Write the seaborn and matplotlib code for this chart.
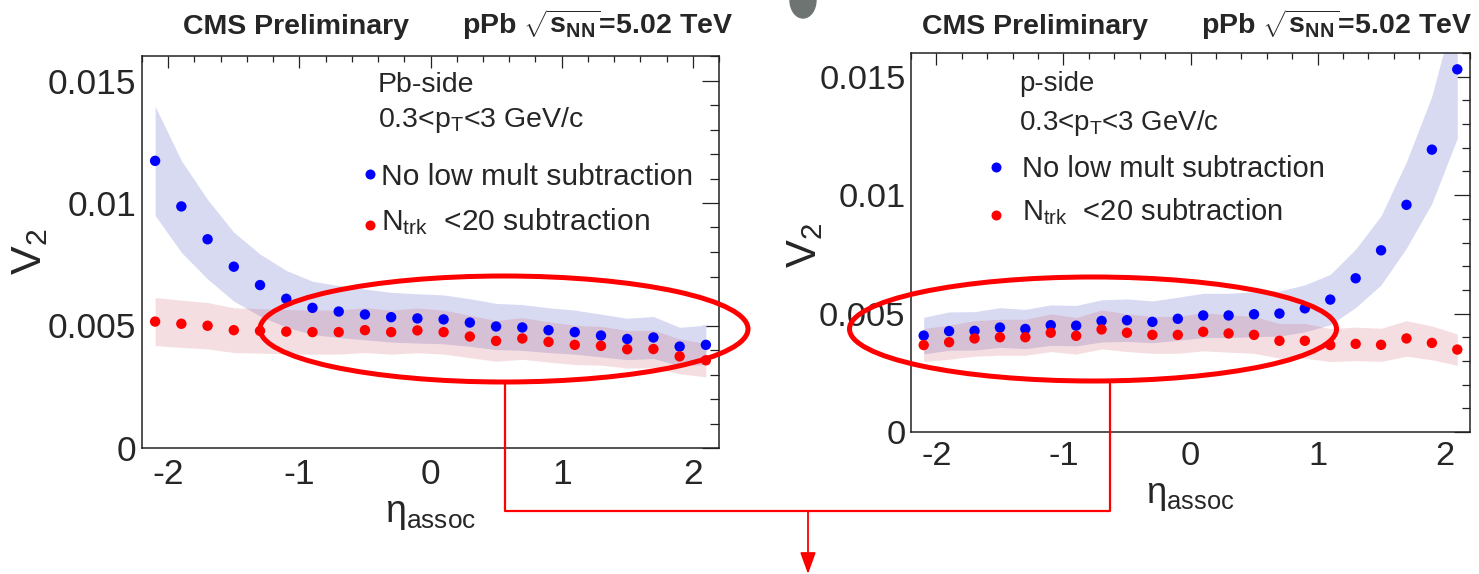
import numpy as np
import pandas as pd
import matplotlib
matplotlib.use("Agg")
import matplotlib.pyplot as plt
import seaborn as sns
from matplotlib.lines import Line2D
from matplotlib.patches import Ellipse, FancyArrowPatch
from matplotlib.ticker import MultipleLocator

# ---- data: v2 vs eta_assoc, 0.3 < pT < 3 GeV/c ----
eta = [-2.1, -1.9, -1.7, -1.5, -1.3, -1.1, -0.9, -0.7, -0.5, -0.3, -0.1,
       0.1, 0.3, 0.5, 0.7, 0.9, 1.1, 1.3, 1.5, 1.7, 1.9, 2.1]

pb_no_sub = [0.01172, 0.00986, 0.00852, 0.00740, 0.00665, 0.00609, 0.00572,
             0.00557, 0.00545, 0.00534, 0.00529, 0.00525, 0.00512, 0.00496,
             0.00492, 0.00481, 0.00473, 0.00459, 0.00445, 0.00451, 0.00414,
             0.00421]
pb_sub20 = [0.00516, 0.00507, 0.00499, 0.00481, 0.00478, 0.00475, 0.00473,
            0.00473, 0.00481, 0.00473, 0.00480, 0.00473, 0.00455, 0.00437,
            0.00447, 0.00433, 0.00421, 0.00417, 0.00403, 0.00404, 0.00374,
            0.00358]

p_no_sub = [0.00407, 0.00426, 0.00427, 0.00441, 0.00435, 0.00451, 0.00449,
            0.00469, 0.00472, 0.00465, 0.00478, 0.00492, 0.00492, 0.00497,
            0.00500, 0.00522, 0.00559, 0.00649, 0.00767, 0.00959, 0.01192,
            0.01531]
p_sub20 = [0.00367, 0.00379, 0.00395, 0.00400, 0.00400, 0.00419, 0.00406,
           0.00433, 0.00419, 0.00410, 0.00410, 0.00423, 0.00416, 0.00410,
           0.00385, 0.00385, 0.00367, 0.00372, 0.00368, 0.00395, 0.00376,
           0.00348]

syst_frac = 0.19  # relative systematic uncertainty (shaded bands)

x_ticks = [-2, -1, 0, 1, 2]
x_tick_labels = ["-2", "-1", "0", "1", "2"]
y_ticks = [0, 0.005, 0.01, 0.015]
y_tick_labels = ["0", "0.005", "0.01", "0.015"]

series_labels = ["No low mult subtraction", r"N$_{\mathrm{trk}}$  <20 subtraction"]
side_labels = ["Pb-side", "p-side"]
pt_label = r"0.3<p$_{\mathrm{T}}$<3 GeV/c"

# ---- style ----
sns.set_style("white")
plt.rcParams["font.family"] = ["Liberation Sans", "DejaVu Sans"]
plt.rcParams["mathtext.fontset"] = "custom"
plt.rcParams["mathtext.rm"] = "Liberation Sans"
plt.rcParams["mathtext.it"] = "Liberation Sans:italic"
plt.rcParams["mathtext.bf"] = "Liberation Sans:bold"

W, H = 1479, 574
fig = plt.figure(figsize=(W / 100, H / 100), dpi=100)
fig.patch.set_facecolor("white")


def fx(x):
    return x / W


def fy(y):
    return 1 - y / H


BLUE = "#0000ff"
RED = "#ff0000"
BLUE_BAND = "#d8daf2"
RED_BAND = (0.78, 0.25, 0.30, 0.17)

panels = [
    dict(rect=(142, 56, 719, 448), no_sub=pb_no_sub, sub=pb_sub20, side=side_labels[0],
         scale=1.0, head_x=378, head_y=(92, 127), mark_x=370, mark_y=(174, 225),
         text_x=381, text_y=(185, 230), title_x=(183, 462), ylab=(30, 252),
         xlab_y=522),
    dict(rect=(911, 53, 1470, 432), no_sub=p_no_sub, sub=p_sub20, side=side_labels[1],
         scale=0.97, head_x=1019, head_y=(91, 130), mark_x=996, mark_y=(167, 215),
         text_x=1022, text_y=(177, 220), title_x=(922, 1201), ylab=(805, 245),
         xlab_y=503),
]

for p in panels:
    l, t, r, b = p["rect"]
    s = p["scale"]
    ax = fig.add_axes([fx(l), fy(b), (r - l) / W, (b - t) / H])
    ax.set_facecolor("white")

    df = pd.DataFrame({"eta": eta, "nosub": p["no_sub"], "sub": p["sub"]})

    # systematic bands
    ax.fill_between(df["eta"], df["nosub"] * (1 - syst_frac), df["nosub"] * (1 + syst_frac),
                    color=BLUE_BAND, lw=0, zorder=1)
    ax.fill_between(df["eta"], df["sub"] * (1 - syst_frac), df["sub"] * (1 + syst_frac),
                    color=RED_BAND, lw=0, zorder=2)

    # data points
    sns.scatterplot(data=df, x="eta", y="nosub", color=BLUE, s=56, edgecolor="none",
                    ax=ax, zorder=4, legend=False)
    sns.scatterplot(data=df, x="eta", y="sub", color=RED, s=56, edgecolor="none",
                    ax=ax, zorder=4, legend=False)

    ax.set_xlim(-2.2, 2.2)
    ax.set_ylim(0, 0.016)
    ax.set_xticks(x_ticks)
    ax.set_xticklabels(x_tick_labels)
    ax.set_yticks(y_ticks)
    ax.set_yticklabels(y_tick_labels)
    ax.xaxis.set_minor_locator(MultipleLocator(0.2))
    ax.yaxis.set_minor_locator(MultipleLocator(0.001))
    ax.set_xlabel("")
    ax.set_ylabel("")
    ax.tick_params(axis="x", which="major", direction="in", top=True, length=8.6 * s,
                   width=0.9, labelsize=25.5 * s, pad=7 * s, color="#222222")
    ax.tick_params(axis="x", which="minor", direction="in", top=True, length=4.3 * s,
                   width=0.9, color="#222222")
    ax.tick_params(axis="y", which="major", direction="in", right=True, length=12 * s,
                   width=0.9, labelsize=25.5 * s, pad=4 * s, color="#222222")
    ax.tick_params(axis="y", which="minor", direction="in", right=True, length=6.3 * s,
                   width=0.9, color="#222222")
    for sp in ax.spines.values():
        sp.set_color("#222222")
        sp.set_linewidth(1.1)

    # in-panel legend
    fig.text(fx(p["head_x"]), fy(p["head_y"][0]), p["side"], fontsize=20.5 * s, va="baseline")
    fig.text(fx(p["head_x"]), fy(p["head_y"][1]), pt_label, fontsize=20.5 * s, va="baseline")
    for col, my, ty, lab in zip((BLUE, RED), p["mark_y"], p["text_y"], series_labels):
        fig.add_artist(Line2D([fx(p["mark_x"])], [fy(my)], marker="o", ms=7.2, color=col,
                              mec="none", transform=fig.transFigure))
        fig.text(fx(p["text_x"]), fy(ty), lab, fontsize=21.6 * s, va="baseline")

    # header above the frame
    fig.text(fx(p["title_x"][0]), fy(34), "CMS Preliminary", fontsize=20.5,
             fontweight="bold", va="baseline")
    fig.text(fx(p["title_x"][1]), fy(34),
             r"pPb $\sqrt{\mathbf{s}_{\mathbf{NN}}}$=5.02 TeV", fontsize=20.5,
             fontweight="bold", va="baseline")

    # axis titles
    fig.text(fx(p["ylab"][0]), fy(p["ylab"][1]), r"V$_{2}$", fontsize=31 * s,
             rotation=90, ha="center", va="center")
    fig.text(fx((l + r) / 2), fy(p["xlab_y"]), r"η$_{\mathrm{assoc}}$", fontsize=27 * s,
             ha="center", va="baseline")

# highlight ellipses and connector
for cx, cy, ew, eh in [(504, 329, 488, 106), (1093, 329, 487, 104)]:
    fig.add_artist(Ellipse((fx(cx), fy(cy)), ew / W, eh / H, transform=fig.transFigure,
                           fill=False, ec=RED, lw=3.6, zorder=10))

fig.add_artist(Line2D([fx(505), fx(505), fx(1110), fx(1110)],
                      [fy(383), fy(511), fy(511), fy(382)],
                      color=RED, lw=1.6, transform=fig.transFigure, zorder=10))
fig.add_artist(FancyArrowPatch((fx(808), fy(511)), (fx(808), fy(574)),
                               transform=fig.transFigure,
                               arrowstyle="-|>,head_length=1.1,head_width=0.4",
                               mutation_scale=12, color=RED, lw=1.3, shrinkA=0, shrinkB=0,
                               zorder=10))

# small grey mark at the top edge
fig.add_artist(Ellipse((fx(803), fy(0)), 26 / W, 36 / H, transform=fig.transFigure,
                       color="#6d7472", zorder=10))

fig.savefig("out.png", dpi=100, facecolor="white")
